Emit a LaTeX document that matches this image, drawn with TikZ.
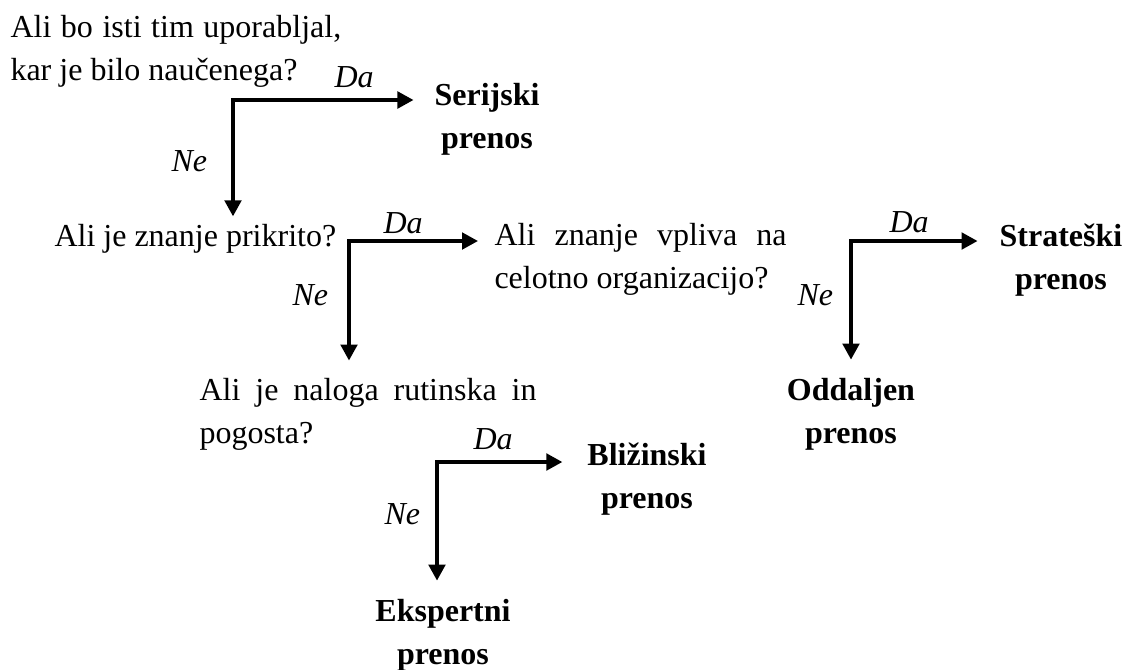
\documentclass[tikz,border=0pt]{standalone}
\usepackage{fontspec}
\setmainfont{Liberation Serif}
\usetikzlibrary{arrows.meta}
\begin{document}
\begin{tikzpicture}[x=0.375pt,y=-0.375pt,
  txt/.style={inner sep=0pt, anchor=base west, font=\fontsize{12}{16}\selectfont, align=left},
  res/.style={inner sep=0pt, anchor=base, font=\fontsize{12}{16}\selectfont\bfseries, align=center},
  lbl/.style={inner sep=0pt, anchor=base west, font=\fontsize{12}{16}\selectfont\itshape},
  arr/.style={line width=1.3pt, line cap=rect, -{Triangle[length=6pt,width=6.2pt]}}]
\useasboundingbox (0,0) rectangle (1125,669);

% questions (base anchor = baseline of the last line)
\node[txt] (q1) at (10,80) {\makebox[124pt][s]{Ali bo isti tim uporabljal,}\\kar je bilo naučenega?};
\node[txt] (q2) at (54,246) {Ali je znanje prikrito?};
\node[txt] (q3) at (494,288) {\makebox[109.5pt][s]{Ali znanje vpliva na}\\celotno organizacijo?};
\node[txt] (q4) at (199,443) {\makebox[126.4pt][s]{Ali je naloga rutinska in}\\pogosta?};

% outcomes
\node[res] (ser) at (487,148) {Serijski\\prenos};
\node[res] (str) at (1061,289) {Strateški\\prenos};
\node[res] (odd) at (851,443) {Oddaljen\\prenos};
\node[res] (bli) at (647,508) {Bližinski\\prenos};
\node[res] (eks) at (443,664) {Ekspertni\\prenos};

% branching corners
\coordinate (c1) at (233,100);
\coordinate (c2) at (349,241);
\coordinate (c3) at (851,241);
\coordinate (c4) at (437,462);

% branch labels
\node[lbl] (da1) at (334,87) {Da};
\node[lbl] (ne1) at (171,171) {Ne};
\node[lbl] (da2) at (383,233) {Da};
\node[lbl] (ne2) at (292,305) {Ne};
\node[lbl] (da3) at (889,232) {Da};
\node[lbl] (ne3) at (797,305) {Ne};
\node[lbl] (da4) at (473,449) {Da};
\node[lbl] (ne4) at (384,524) {Ne};

% connectors
\draw[arr, shorten >=7.7pt] (c1) -- (c1 -| ser.west);
\draw[arr, shorten >=2.6pt] (c1) -- (c1 |- q2.north);
\draw[arr, shorten >=6pt] (c2) -- (c2 -| q3.west);
\draw[arr, shorten >=6.4pt] (c2) -- (c2 |- q4.north);
\draw[arr, shorten >=8.1pt] (c3) -- (c3 -| str.west);
\draw[arr, shorten >=6.75pt] (c3) -- (c3 |- odd.north);
\draw[arr, shorten >=9.2pt] (c4) -- (c4 -| bli.west);
\draw[arr, shorten >=6.75pt] (c4) -- (c4 |- eks.north);
\end{tikzpicture}
\end{document}
